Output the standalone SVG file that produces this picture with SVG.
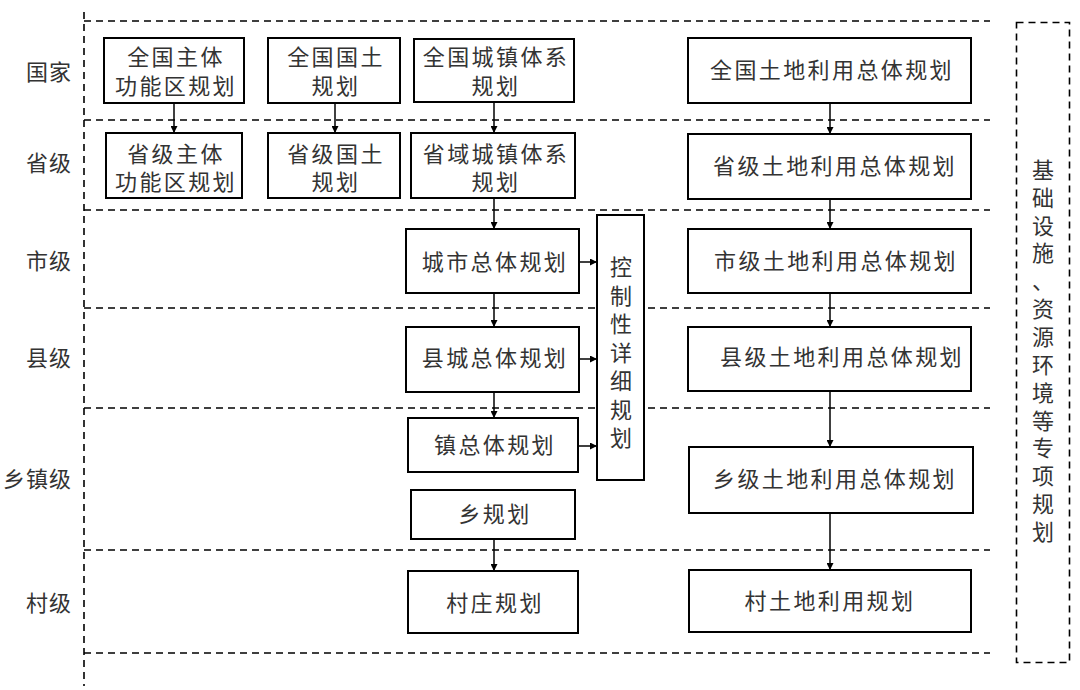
<svg xmlns="http://www.w3.org/2000/svg" width="1080" height="690" viewBox="0 0 1080 690">
<defs>
<marker id="ah" viewBox="0 0 10 10" refX="10" refY="5" markerWidth="8" markerHeight="7" markerUnits="userSpaceOnUse" orient="auto">
<path d="M0,0 L10,5 L0,10 z" fill="#000"/>
</marker>
<style>
.box{fill:#fff;stroke:#000;stroke-width:2}
.dash{fill:none;stroke:#000;stroke-width:1.6;stroke-dasharray:7 5}
.t{font-family:"Liberation Sans","Noto Sans CJK SC",sans-serif;font-size:22px;fill:#333;text-anchor:middle;dominant-baseline:central;letter-spacing:2.4px}
.lab{font-family:"Liberation Sans","Noto Sans CJK SC",sans-serif;font-size:22px;fill:#333;text-anchor:end;dominant-baseline:central;letter-spacing:1px}
.v{font-family:"Liberation Sans","Noto Sans CJK SC",sans-serif;font-size:22px;fill:#333;text-anchor:middle;dominant-baseline:central}
.ar{fill:none;stroke:#000;stroke-width:1.5;marker-end:url(#ah)}
</style>
</defs>
<rect width="1080" height="690" fill="#fff"/>
<g id="grid">
<line class="dash" x1="84" y1="12" x2="84" y2="686"/>
<line class="dash" x1="84" y1="21" x2="990" y2="21"/>
<line class="dash" x1="84" y1="120" x2="990" y2="120"/>
<line class="dash" x1="84" y1="210" x2="990" y2="210"/>
<line class="dash" x1="84" y1="308" x2="990" y2="308"/>
<line class="dash" x1="84" y1="408" x2="990" y2="408"/>
<line class="dash" x1="84" y1="550" x2="990" y2="550"/>
<line class="dash" x1="84" y1="653" x2="990" y2="653"/>
</g>
<g id="levels">
<text class="lab" x="72" y="72">国家</text>
<text class="lab" x="72" y="163">省级</text>
<text class="lab" x="72" y="261">市级</text>
<text class="lab" x="72" y="358">县级</text>
<text class="lab" x="72" y="479">乡镇级</text>
<text class="lab" x="72" y="603">村级</text>
</g>
<g id="connectors">
<line class="ar" x1="174" y1="103" x2="174" y2="133"/>
<line class="ar" x1="335" y1="103" x2="335" y2="133"/>
<line class="ar" x1="494" y1="102" x2="494" y2="133"/>
<line class="ar" x1="494" y1="198" x2="494" y2="229"/>
<line class="ar" x1="494" y1="293" x2="494" y2="327"/>
<line class="ar" x1="494" y1="392" x2="494" y2="418"/>
<line class="ar" x1="494" y1="539" x2="494" y2="571"/>
<line class="ar" x1="579" y1="262" x2="597" y2="262"/>
<line class="ar" x1="579" y1="359" x2="597" y2="359"/>
<line class="ar" x1="578" y1="446" x2="597" y2="446"/>
<line class="ar" x1="830" y1="103" x2="830" y2="134"/>
<line class="ar" x1="830" y1="199" x2="830" y2="229"/>
<line class="ar" x1="830" y1="293" x2="830" y2="327"/>
<line class="ar" x1="830" y1="391" x2="830" y2="447"/>
<line class="ar" x1="830" y1="513" x2="830" y2="570"/>
</g>
<g id="n1"><rect class="box" x="104" y="38" width="140" height="65"/><text class="t" x="176" y="57">全国主体</text><text class="t" x="176" y="86">功能区规划</text></g>
<g id="n2"><rect class="box" x="268" y="38" width="132" height="65"/><text class="t" x="336" y="57">全国国土</text><text class="t" x="336" y="86">规划</text></g>
<g id="n3"><rect class="box" x="414" y="39" width="160" height="63"/><text class="t" x="496" y="57">全国城镇体系</text><text class="t" x="496" y="86">规划</text></g>
<g id="n4"><rect class="box" x="106" y="133" width="136" height="65"/><text class="t" x="176" y="154">省级主体</text><text class="t" x="176" y="182">功能区规划</text></g>
<g id="n5"><rect class="box" x="268" y="133" width="132" height="65"/><text class="t" x="336" y="154">省级国土</text><text class="t" x="336" y="182">规划</text></g>
<g id="n6"><rect class="box" x="411" y="133" width="164" height="65"/><text class="t" x="496" y="154">省域城镇体系</text><text class="t" x="496" y="182">规划</text></g>
<g id="n7"><rect class="box" x="406" y="229" width="173" height="64"/><text class="t" x="495" y="262">城市总体规划</text></g>
<g id="n8"><rect class="box" x="406" y="327" width="173" height="65"/><text class="t" x="495" y="358">县城总体规划</text></g>
<g id="n9"><rect class="box" x="408" y="418" width="170" height="54"/><text class="t" x="495" y="445">镇总体规划</text></g>
<g id="n10"><rect class="box" x="411" y="490" width="164" height="49"/><text class="t" x="495" y="514">乡规划</text></g>
<g id="n11"><rect class="box" x="408" y="571" width="170" height="62"/><text class="t" x="495" y="603">村庄规划</text></g>
<g id="n12"><rect class="box" x="597" y="215" width="47" height="265"/>
<text class="v"><tspan x="621" y="267">控</tspan><tspan x="621" y="296">制</tspan><tspan x="621" y="324">性</tspan><tspan x="621" y="353">详</tspan><tspan x="621" y="381">细</tspan><tspan x="621" y="410">规</tspan><tspan x="621" y="438">划</tspan></text></g>
<g id="n13"><rect class="box" x="688" y="38" width="283" height="65"/><text class="t" x="832" y="70">全国土地利用总体规划</text></g>
<g id="n14"><rect class="box" x="688" y="134" width="283" height="65"/><text class="t" x="835" y="166">省级土地利用总体规划</text></g>
<g id="n15"><rect class="box" x="688" y="229" width="283" height="64"/><text class="t" x="836" y="261">市级土地利用总体规划</text></g>
<g id="n16"><rect class="box" x="688" y="327" width="283" height="64"/><text class="t" x="842" y="357">县级土地利用总体规划</text></g>
<g id="n17"><rect class="box" x="689" y="447" width="284" height="66"/><text class="t" x="835" y="479">乡级土地利用总体规划</text></g>
<g id="n18"><rect class="box" x="689" y="570" width="282" height="62"/><text class="t" x="830" y="601">村土地利用规划</text></g>
<g id="n19"><rect class="dash" x="1016.5" y="22.5" width="53" height="640"/>
<text class="v"><tspan x="1043" y="170">基</tspan><tspan x="1043" y="198">础</tspan><tspan x="1043" y="226">设</tspan><tspan x="1043" y="253">施</tspan><tspan x="1043" y="281">、</tspan><tspan x="1043" y="309">资</tspan><tspan x="1043" y="337">源</tspan><tspan x="1043" y="365">环</tspan><tspan x="1043" y="393">境</tspan><tspan x="1043" y="421">等</tspan><tspan x="1043" y="448">专</tspan><tspan x="1043" y="476">项</tspan><tspan x="1043" y="504">规</tspan><tspan x="1043" y="532">划</tspan></text></g>
</svg>
